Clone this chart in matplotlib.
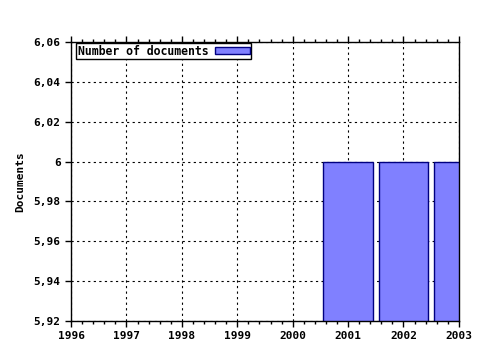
import matplotlib
matplotlib.use("Agg")
import matplotlib.pyplot as plt
from matplotlib.ticker import FuncFormatter, MultipleLocator

# Data
years = [2001, 2002, 2003]
documents = [6, 6, 6]
x_ticks = [1996, 1997, 1998, 1999, 2000, 2001, 2002, 2003]
y_min, y_max = 5.92, 6.06

plt.rcParams['font.family'] = 'DejaVu Sans Mono'
plt.rcParams['font.weight'] = 'bold'
plt.rcParams['font.size'] = 8

fig = plt.figure(figsize=(4.8, 3.5), dpi=100)
ax = fig.add_axes([0.148, 0.083, 0.808, 0.797])

ax.bar(years, documents, width=0.9, color='#8080ff', edgecolor='#000080',
       linewidth=1, label='Number of documents', zorder=3)

ax.set_xlim(x_ticks[0], x_ticks[-1])
ax.set_ylim(y_min, y_max)
ax.set_xticks(x_ticks)
ax.yaxis.set_major_locator(MultipleLocator(0.02))
ax.xaxis.set_minor_locator(MultipleLocator(0.2))
ax.yaxis.set_major_formatter(FuncFormatter(lambda v, p: ('%g' % round(v, 4)).replace('.', ',')))

ax.tick_params(axis='x', which='both', top=True, direction='out', length=4, width=1)
ax.tick_params(axis='x', which='minor', length=2)
ax.tick_params(axis='y', direction='out', length=4, width=1)
ax.tick_params(labelsize=8)

ax.grid(True, which='major', color='black', linestyle=(0, (2, 3)), linewidth=0.8, zorder=1)
ax.set_axisbelow(True)
for s in ax.spines.values():
    s.set_linewidth(1)
    s.set_zorder(4)

ax.set_ylabel('Documents', fontsize=8, fontweight='bold', labelpad=6)

leg = ax.legend(loc='upper left', bbox_to_anchor=(0.014, 0.995), borderaxespad=0.0,
                fancybox=False, framealpha=1, edgecolor='black', fontsize=8.3,
                markerfirst=False, handlelength=3.0, handleheight=0.65,
                borderpad=0.1, handletextpad=0.6)
leg.get_frame().set_linewidth(1)

fig.savefig('out.png', dpi=100)
